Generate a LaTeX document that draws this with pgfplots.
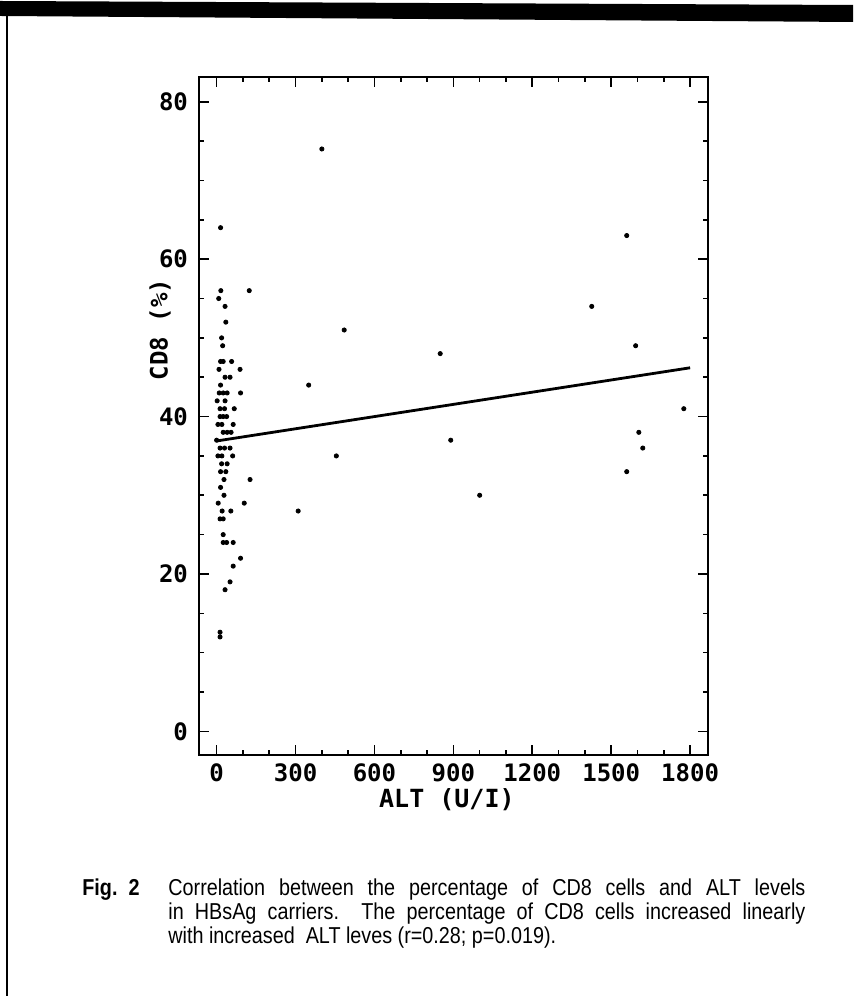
\documentclass[border=0pt]{standalone}
\usepackage{pgfplots}
\pgfplotsset{compat=1.18}
\usepackage{fontspec}
\setmainfont{Liberation Sans}
\newfontfamily\plotfont{DejaVu Sans Mono}
\newfontfamily\capfont[FakeStretch=0.86]{Liberation Sans}
\pgfplotstableread{
x y
15 64
16 56
124 56
8 55
32 54
35 52
19 50
23 49
15 47
25 47
57 47
9 46
89 46
32 45
51 45
15 44
10 43
25 43
40 43
91 43
2 42
32 42
13 41
30 41
67 41
13 40
25 40
38 40
5 39
20 39
63 39
25 38
40 38
55 38
0 37
13 36
30 36
51 36
5 35
20 35
61 35
19 34
40 34
15 33
35 33
28 32
127 32
15 31
28 30
6 29
105 29
21 28
54 28
13 27
25 27
25 25
25 24
38 24
63 24
91 22
63 21
51 19
32 18
13 12
13 12.6
400 74
1559 63
1426 54
485 51
1593 49
850 48
350 44
1776 41
1605 38
890 37
1620 36
455 35
1559 33
1000 30
310 28
}\cdeight
\begin{document}
\begin{tikzpicture}
\path[use as bounding box] (0pt,0pt) rectangle (426.5pt,498pt);
\fill[black] (0pt,497.5pt) -- (426.5pt,495.5pt) -- (426.5pt,487pt) -- (0pt,490pt) -- cycle;
\draw[line width=1pt] (3.5pt,494pt) -- (3.5pt,0pt);
\begin{axis}[
  at={(99.5pt,120.5pt)}, anchor=south west,
  scale only axis, width=254.5pt, height=339.2pt,
  xmin=-67, xmax=1868, ymin=-3, ymax=83.2,
  xtick={0,300,...,1800}, ytick={0,20,...,80},
  minor x tick num=2, minor y tick num=3,
  tick align=inside,
  major tick length=5pt, minor tick length=2.5pt,
  axis line style={line width=1pt},
  every tick/.style={black, line width=0.8pt},
  /pgf/number format/assume math mode=true,
  /pgf/number format/1000 sep={},
  tick label style={font=\plotfont\bfseries\fontsize{12}{12}\selectfont},
  xticklabel style={yshift=-1pt},
  yticklabel style={xshift=-2pt},
  xlabel={ALT (U/I)}, ylabel={CD8 (\%)},
  every axis x label/.style={at={(axis description cs:0.487,-0.066)}, anchor=center,
    font=\plotfont\bfseries\fontsize{12.5}{13}\selectfont},
  every axis y label/.style={at={(axis description cs:-0.0766,0.627)}, anchor=center, rotate=90,
    font=\plotfont\bfseries\fontsize{12}{13}\selectfont},
]
\addplot[only marks, mark=*, mark size=1.05pt, black] table[x=x, y=y] {\cdeight};
\addplot[black, line width=1.4pt] coordinates {(0,36.9) (1800,46.2)};
\end{axis}
\node[anchor=base west, inner sep=0pt, font=\capfont\bfseries\fontsize{11.5}{12}\selectfont] at (41pt,50.3pt) {Fig.\ \ 2};
\node[anchor=base west, inner sep=0pt, font=\capfont\fontsize{11.5}{12}\selectfont] at (84pt,50.3pt) {\makebox[318.5pt][s]{Correlation between the percentage of CD8 cells and ALT levels}};
\node[anchor=base west, inner sep=0pt, font=\capfont\fontsize{11.5}{12}\selectfont] at (84pt,38.3pt) {\makebox[318.5pt][s]{in HBsAg carriers.\ \ The percentage of CD8 cells increased linearly}};
\node[anchor=base west, inner sep=0pt, font=\capfont\fontsize{11.5}{12}\selectfont] at (84pt,26.3pt) {with increased\ \ ALT leves (r=0.28; p=0.019).};
\end{tikzpicture}
\end{document}
